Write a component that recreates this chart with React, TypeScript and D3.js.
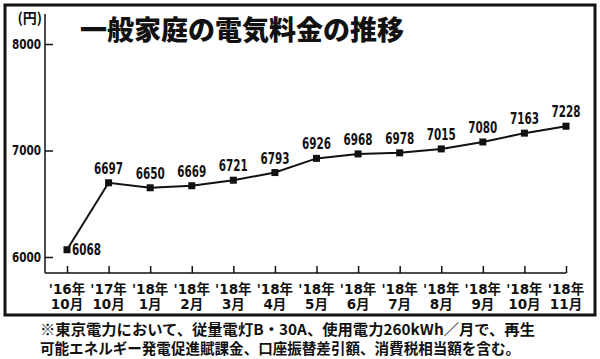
import * as d3 from 'd3';
import { useEffect, useRef } from 'react';

const months = ["'16年|10月", "'17年|10月", "'18年|1月", "'18年|2月", "'18年|3月", "'18年|4月", "'18年|5月", "'18年|6月", "'18年|7月", "'18年|8月", "'18年|9月", "'18年|10月", "'18年|11月"];
const prices = [6068, 6697, 6650, 6669, 6721, 6793, 6926, 6968, 6978, 7015, 7080, 7163, 7228];
const yTicks = [6000, 7000, 8000];
const title = '一般家庭の電気料金の推移';
const notes = [
    '※東京電力において、従量電灯B・30A、使用電力260kWh／月で、再生',
    '可能エネルギー発電促進賦課金、口座振替差引額、消費税相当額を含む。',
];

const numFont = "'DejaVu Sans', 'Noto Sans CJK JP', sans-serif";
const jpFont = "'Noto Sans CJK JP', sans-serif";

export default function App() {
    const svgRef = useRef<SVGSVGElement>(null);

    useEffect(() => {
        if (!svgRef.current) return;
        const width = 600;
        const height = 359;

        const svg = d3.select(svgRef.current).attr('width', width).attr('height', height).style('background', '#fff');
        svg.selectAll('*').remove();

        // frame
        svg.append('rect').attr('x', 5).attr('y', 5).attr('width', 590).attr('height', 310).attr('fill', 'none').attr('stroke', '#111').attr('stroke-width', 3);

        const x = d3.scalePoint<string>().domain(months).range([67, 566]);
        const y = d3.scaleLinear().domain([6000, 8000]).range([257, 44]);
        const axisY = 273;

        // y axis
        const yAxis = svg
            .append('g')
            .attr('transform', 'translate(45,0)')
            .call(d3.axisRight(y).tickValues(yTicks).tickSize(8).tickSizeOuter(0).tickFormat((d) => String(d)));
        yAxis.select('.domain').remove();
        yAxis.selectAll('.tick line').attr('stroke', '#111').attr('stroke-width', 1.5);
        yAxis.selectAll('text')
            .attr('x', -4)
            .attr('text-anchor', 'end')
            .attr('font-family', numFont)
            .attr('font-weight', 'bold')
            .attr('font-size', 14)
            .attr('textLength', 29)
            .attr('lengthAdjust', 'spacingAndGlyphs')
            .attr('fill', '#111');
        svg.append('line').attr('x1', 45).attr('x2', 45).attr('y1', 14).attr('y2', axisY).attr('stroke', '#111').attr('stroke-width', 1.5);

        svg.append('text').attr('x', 42).attr('y', 23).attr('text-anchor', 'end').attr('font-family', jpFont).attr('font-weight', 'bold').attr('font-size', 14).attr('fill', '#111').text('(円)');

        // x axis
        const xAxis = svg
            .append('g')
            .attr('transform', `translate(0,${axisY})`)
            .call(d3.axisTop(x).tickSize(7).tickSizeOuter(0).tickFormat(() => ''));
        xAxis.select('.domain').attr('d', `M45,0H${x(months[months.length - 1])!}`).attr('stroke', '#111').attr('stroke-width', 1.5);
        xAxis.selectAll('.tick line').attr('stroke', '#111').attr('stroke-width', 1.5);

        [0, 1].forEach((line) => {
            svg.append('g').selectAll('text').data(months).join('text')
                .attr('x', (d) => x(d)!)
                .attr('y', line === 0 ? 294 : 309)
                .attr('text-anchor', 'middle')
                .attr('font-family', numFont)
                .attr('font-weight', 'bold')
                .attr('font-size', 13.5)
                .attr('fill', '#111')
                .text((d) => d.split('|')[line]);
        });

        // line + markers
        const line = d3.line<number>().x((_, i) => x(months[i])!).y((d) => y(d));
        svg.append('path').datum(prices).attr('d', line).attr('fill', 'none').attr('stroke', '#111').attr('stroke-width', 2);

        svg.append('g').selectAll('rect').data(prices).join('rect')
            .attr('x', (_, i) => x(months[i])! - 3.5)
            .attr('y', (d) => y(d) - 3.5)
            .attr('width', 7)
            .attr('height', 7)
            .attr('fill', '#111');

        svg.append('g').selectAll('text').data(prices).join('text')
            .attr('x', (_, i) => (i === 0 ? x(months[i])! + 5 : x(months[i])!))
            .attr('y', (d, i) => (i === 0 ? y(d) + 5 : y(d) - 9))
            .attr('text-anchor', (_, i) => (i === 0 ? 'start' : 'middle'))
            .attr('font-family', numFont)
            .attr('font-weight', 'bold')
            .attr('font-size', 15)
            .attr('textLength', 29)
            .attr('lengthAdjust', 'spacingAndGlyphs')
            .attr('fill', '#111')
            .text((d) => String(d));

        // title
        svg.append('text').attr('x', 80).attr('y', 40).attr('font-family', jpFont).attr('font-weight', 900).attr('font-size', 27).attr('fill', '#111').text(title);

        // footnote
        const noteLen = [495, 480];
        svg.append('g').selectAll('text').data(notes).join('text')
            .attr('x', 40)
            .attr('y', (_, i) => 335 + i * 19)
            .attr('font-family', jpFont)
            .attr('font-weight', 'bold')
            .attr('font-size', 15)
            .attr('textLength', (_, i) => noteLen[i])
            .attr('lengthAdjust', 'spacingAndGlyphs')
            .attr('fill', '#111')
            .text((d) => d);
    }, []);

    return <svg ref={svgRef} style={{ position: 'absolute', left: 0, top: 0 }} />;
}
